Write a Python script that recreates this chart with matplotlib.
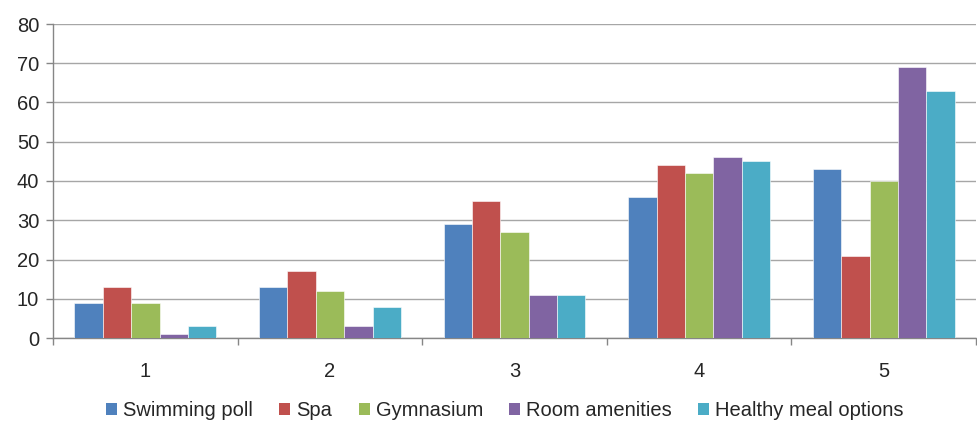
import matplotlib
matplotlib.use("Agg")
import matplotlib.pyplot as plt
from matplotlib.patches import Patch
import numpy as np

categories = ["1", "2", "3", "4", "5"]
series_names = ["Swimming poll", "Spa", "Gymnasium", "Room amenities", "Healthy meal options"]
swimming_poll = [9, 13, 29, 36, 43]
spa = [13, 17, 35, 44, 21]
gymnasium = [9, 12, 27, 42, 40]
room_amenities = [1, 3, 11, 46, 69]
healthy_meal = [3, 8, 11, 45, 63]
y_ticks = [0, 10, 20, 30, 40, 50, 60, 70, 80]

series = [swimming_poll, spa, gymnasium, room_amenities, healthy_meal]
colors = ["#4F81BD", "#C0504D", "#9BBB59", "#8064A2", "#4BACC6"]

plt.rcParams["font.family"] = ["Liberation Sans", "DejaVu Sans"]

fig = plt.figure(figsize=(9.77, 4.24), dpi=100)
ax = fig.add_axes([53 / 977, 86 / 424, 923 / 977, 314 / 424])

n = len(series)
gap = 1.5
bw = 1.0 / (n + gap)
x = np.arange(len(categories))
for i, (vals, c) in enumerate(zip(series, colors)):
    offs = (i - (n - 1) / 2) * bw
    ax.bar(x + offs, vals, width=bw, color=c, edgecolor="white", linewidth=0.4, zorder=3)

ax.set_xlim(-0.5, len(categories) - 0.5)
ax.set_ylim(0, 80)
ax.set_yticks(y_ticks)
ax.set_yticklabels([str(t) for t in y_ticks], fontsize=14.5, color="#262626")
ax.yaxis.grid(True, color="#A6A6A6", linewidth=1.0, zorder=0)

# category labels centred, tick marks at category boundaries
ax.set_xticks(x)
ax.set_xticklabels(categories, fontsize=14.5, color="#262626")
ax.tick_params(axis="x", length=0, pad=17)
ax.set_xticks(np.arange(-0.5, len(categories) + 0.5, 1.0), minor=True)
ax.tick_params(axis="x", which="minor", length=5, color="#868686", width=1)
ax.tick_params(axis="y", length=5, color="#868686", width=1, pad=5)

for side in ["top", "right"]:
    ax.spines[side].set_visible(False)
for side in ["left", "bottom"]:
    ax.spines[side].set_color("#868686")
    ax.spines[side].set_linewidth(1.0)

handles = [Patch(facecolor=c, edgecolor="none") for c in colors]
fig.legend(handles, series_names, loc="center", bbox_to_anchor=(505 / 977, 1 - 411 / 424),
           ncol=5, frameon=False, fontsize=14.5, handlelength=0.55, handleheight=0.55,
           handletextpad=0.3, columnspacing=1.3, labelcolor="#262626")

fig.savefig("out.png", dpi=100)
